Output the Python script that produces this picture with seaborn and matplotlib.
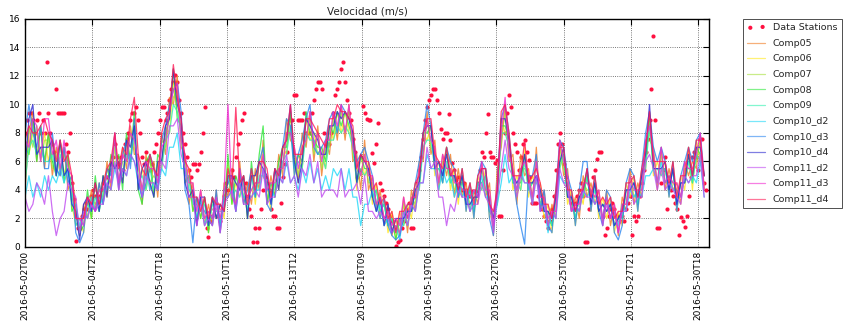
import numpy as np
import pandas as pd
import matplotlib
matplotlib.use("Agg")
import matplotlib.pyplot as plt
import matplotlib.dates as mdates
import seaborn as sns

# Time base: model output every 4 h, station observations every 2 h
start = pd.Timestamp("2016-05-02 00:00")
model_step_h = 4
station_step_h = 2

# Wind speed (m/s), one row per day (May 2 ... May 31)
comp05 = [4, 8, 9.5, 6, 8.5, 5.5,
          8, 5, 7, 5, 7, 4,
          5, 3, 0.8, 3, 2, 4,
          2.5, 4.5, 3, 6, 4, 8,
          4, 7, 5.5, 8.5, 6.5, 6.5,
          3, 6.5, 4, 6, 3.5, 8,
          6.5, 10.5, 10, 12, 7, 6.5,
          3, 4.5, 1.5, 4, 1.5, 3,
          1.5, 4, 1, 4.5, 3.5, 5.5,
          2.5, 6, 3, 4.5, 3, 5.5,
          4, 7.5, 3, 5, 3.5, 6.5,
          5, 9, 7.5, 7, 4.5, 8,
          7, 9.5, 6, 8.5, 5, 7.5,
          6.5, 9.5, 7.5, 10, 7.5, 10,
          6, 6.5, 4, 7.5, 4, 5,
          2.5, 4, 1.5, 3, 0.8, 2,
          0.8, 3.5, 1, 4, 2.5, 6,
          6, 9.5, 6.5, 7.5, 4, 6.5,
          5, 6.5, 3.5, 5.5, 3.5, 4.5,
          2.5, 4, 3, 6, 3.5, 4.5,
          0.8, 5.5, 7, 10, 6, 6.5,
          3, 6.5, 5, 5.5, 3, 7,
          2.5, 4, 1.5, 3, 2, 7.5,
          5, 5.5, 2.5, 3.5, 2, 5,
          3.5, 4.5, 3, 4, 1.5, 4,
          1.5, 3, 0.8, 3.5, 2.5, 5.5,
          3, 4.5, 3.5, 7.5, 7.5, 7,
          4, 7, 4, 5.5, 4, 4.5,
          3, 6, 5, 6, 5.5, 8,
          4]

comp06 = [6.5, 6.5, 8, 8, 6.5, 8,
          6, 7.5, 5, 7.5, 5, 6.5,
          3, 1.5, 2, 1, 3.5, 2,
          4.5, 2.5, 5, 3.5, 6, 6,
          6, 4.5, 7.5, 6, 9, 4,
          5.5, 4, 6.5, 3.5, 6, 5.5,
          8.5, 8, 11.5, 9.5, 8.5, 4.5,
          5.5, 2.5, 3.5, 2, 3.5, 1,
          3.5, 2, 3, 2, 6, 3,
          4.5, 3.5, 5, 2, 5.5, 3,
          6, 5, 4.5, 2.5, 5.5, 4,
          7, 6.5, 9.5, 5, 6.5, 5.5,
          9, 7.5, 8, 6.5, 7, 5.5,
          8.5, 7.5, 9.5, 8, 9.5, 8,
          8, 4, 6.5, 5, 6, 3,
          4.5, 2, 3.5, 1, 2.5, 0.5,
          2.5, 1.5, 3, 2, 4.5, 4,
          8, 7.5, 8.5, 5, 6, 4.5,
          7, 4, 5.5, 3, 5.5, 2.5,
          4.5, 2, 5, 4, 5.5, 2,
          2.5, 3, 9, 8, 8, 4,
          5, 4, 7, 3.5, 5, 4.5,
          4.5, 2, 3, 1, 4, 5.5,
          7, 3, 4, 1.5, 4, 3,
          5.5, 2.5, 5, 2, 3.5, 2,
          3.5, 1, 2.5, 1.5, 4.5, 3.5,
          5, 2.5, 5.5, 5.5, 9.5, 5,
          6, 5, 6, 3.5, 6, 2.5,
          5, 4, 7, 4, 7.5, 6,
          5]

comp07 = [5, 8.5, 7, 8.5, 6, 7.5,
          7.5, 5.5, 6.5, 5.5, 6.5, 6,
          3.5, 2.5, 0.8, 2.5, 2, 3.5,
          3, 4, 3.5, 5.5, 4.5, 7,
          4.5, 6, 6, 8, 7, 5.5,
          4, 5.5, 4.5, 5, 4.5, 7.5,
          7, 9.5, 10.5, 11, 7.5, 6,
          4, 3.5, 2, 3.5, 2, 2.5,
          2, 3.5, 1.5, 3.5, 4.5, 4.5,
          3, 5, 3.5, 3.5, 4, 4.5,
          4.5, 6.5, 3.5, 4, 4, 5.5,
          5.5, 8, 8, 6.5, 5, 7,
          7.5, 9, 6.5, 8, 5.5, 7,
          7, 9, 8, 9.5, 8, 9.5,
          6.5, 5.5, 5, 6.5, 4.5, 4.5,
          3, 3.5, 2, 2.5, 1, 1.5,
          1, 3, 1.5, 3.5, 3, 5.5,
          6.5, 9, 7, 6.5, 4.5, 6,
          5.5, 5.5, 4, 4.5, 4, 4,
          3, 3.5, 3.5, 5.5, 4, 3.5,
          1, 4.5, 7.5, 9.5, 6.5, 5.5,
          3.5, 5.5, 5.5, 5, 3.5, 6,
          3, 3.5, 1.5, 2.5, 2.5, 7,
          5.5, 4.5, 2.5, 3, 2.5, 4.5,
          4, 4, 3.5, 3.5, 2, 3.5,
          2, 2.5, 1, 3, 3, 5,
          3.5, 4, 4, 7, 8, 6.5,
          4.5, 6.5, 4.5, 5, 4.5, 4,
          3.5, 5.5, 5.5, 5.5, 6, 7.5,
          4]

comp08 = [7, 6.5, 9, 6, 8.5, 6,
          8, 6, 5, 7.5, 4.5, 6.5,
          2.5, 3, 1, 1.5, 4, 2,
          5, 2.5, 5, 4, 6.5, 5.5,
          6.5, 4, 8, 6, 9.5, 4,
          3, 6, 6.5, 3.5, 6.5, 6,
          8, 9, 12.5, 9, 8.5, 4.5,
          5, 2.5, 3.5, 2, 3.5, 1,
          3.5, 2, 3, 2.5, 6.5, 3,
          5, 4, 5, 2, 6, 3.5,
          6.5, 8.5, 3, 4.5, 3.5, 6,
          7, 7, 9.5, 5.5, 6.5, 6,
          9.5, 8, 7.5, 7, 7, 6,
          8.5, 8, 9.5, 8.5, 9.5, 8.5,
          7.5, 4.5, 6.5, 5.5, 5.5, 3.5,
          4, 2.5, 3, 1.5, 2, 0.5,
          2, 2, 2.5, 2.5, 4, 4.5,
          8, 8, 8.5, 5.5, 5.5, 5,
          7, 4.5, 5, 3.5, 5, 3,
          4, 2.5, 4.5, 4.5, 5, 2.5,
          2, 3.5, 8.5, 8.5, 7.5, 4.5,
          4.5, 4.5, 6.5, 4, 4.5, 5,
          4, 2.5, 2.5, 1.5, 3.5, 6,
          6.5, 3.5, 3.5, 2, 3.5, 3.5,
          5, 3, 4.5, 2.5, 3, 2.5,
          3, 1.5, 2, 2, 4, 4,
          4.5, 3, 5, 6, 9, 5.5,
          5.5, 5.5, 5.5, 4, 5.5, 3,
          4.5, 4.5, 6.5, 4.5, 7, 6.5,
          5]

comp09 = [4.5, 7, 7.5, 6.5, 7, 6,
          6, 6.5, 5, 6.5, 5, 5.5,
          4, 1.5, 2, 1.5, 3, 2.5,
          3.5, 2.5, 4, 4, 5.5, 5.5,
          5.5, 5, 6.5, 6, 8, 4.5,
          5, 4, 5.5, 4, 5, 5.5,
          7.5, 8, 10, 9.5, 8, 5,
          5, 3, 3, 2.5, 3, 1.5,
          3, 2.5, 2.5, 2.5, 5, 3.5,
          4, 3.5, 4.5, 2.5, 5, 3.5,
          5, 5, 4.5, 3, 4.5, 4.5,
          6, 6.5, 8.5, 5.5, 6, 5.5,
          8, 7.5, 7.5, 6.5, 6.5, 5.5,
          7.5, 7.5, 8.5, 8, 8.5, 8,
          7, 4.5, 5.5, 5, 5.5, 3.5,
          4, 2.5, 3, 1.5, 2, 1,
          2, 1.5, 2.5, 2.5, 4, 4,
          7, 7.5, 7.5, 5.5, 5.5, 4.5,
          6, 4.5, 5, 3.5, 4.5, 3,
          4, 2.5, 4.5, 4, 5, 2.5,
          2.5, 3, 8, 8, 7, 4.5,
          4.5, 4, 6, 4, 4.5, 4.5,
          4, 2.5, 2.5, 1.5, 3.5, 5.5,
          6.5, 3.5, 3.5, 2, 3.5, 3.5,
          5, 3, 4, 2.5, 3, 2.5,
          3, 1.5, 2, 2, 4, 4,
          4.5, 3, 5, 5.5, 8.5, 5.5,
          5.5, 5, 5.5, 4, 5.5, 3,
          4.5, 4.5, 6, 4.5, 6.5, 6,
          5]

comp10_d2 = [3.5, 5, 3.5, 4.5, 3.5, 5,
             4, 5, 4.5, 5.5, 4.5, 5.5,
             3, 3, 1.5, 2.5, 2, 3.5,
             2.5, 3.5, 3, 4.5, 4, 5.5,
             4.5, 5.5, 5, 6.5, 6, 4.5,
             3.5, 5.5, 4, 4.5, 4, 5.5,
             5, 7, 7, 8, 5.5, 5.5,
             4, 4, 2, 3.5, 1.5, 2.5,
             2, 3.5, 1.5, 3.5, 3.5, 4,
             2.5, 4.5, 3.5, 3.5, 3.5, 4,
             4, 5.5, 4, 4, 3.5, 5,
             4.5, 6, 4.5, 5, 4, 5.5,
             4.5, 6, 4.5, 5.5, 4, 5,
             4, 5.5, 5, 5.5, 4, 5.5,
             3.5, 3.5, 1.5, 3, 3, 4,
             2.5, 3, 1.5, 2, 1, 1.5,
             0.5, 2.5, 1.5, 3, 2.5, 4.5,
             4.5, 6.5, 5.5, 5.5, 4, 5.5,
             4.5, 5, 3.5, 4.5, 3.5, 4,
             2.5, 4, 3.5, 5, 3.5, 3.5,
             1.5, 3, 4.5, 6.5, 4.5, 5,
             4, 5.5, 4.5, 4.5, 3, 5,
             3, 3, 1, 2.5, 2, 5,
             4.5, 4.5, 2.5, 3, 2.5, 4,
             3.5, 4, 3, 3.5, 2, 3.5,
             2, 2.5, 1.5, 3, 2.5, 4,
             3.5, 4, 3.5, 5, 5, 5.5,
             4.5, 6, 4.5, 5, 4, 4,
             3.5, 5, 4.5, 5, 4.5, 6,
             3.5]

comp10_d3 = [8, 10, 8, 7, 8.5, 5.5,
             5.5, 8, 5.5, 5, 7, 4.5,
             5, 1, 0.3, 1, 3.5, 3,
             2.5, 4.5, 3, 5.5, 5, 8,
             4, 6.5, 7.5, 5.5, 9, 4.5,
             3.5, 4.5, 6.5, 5.5, 4, 7.5,
             8.5, 10, 11, 11.5, 9.5, 4,
             3, 0.3, 3.5, 3, 2.5, 2,
             1.5, 4, 1, 4, 4.5, 5,
             2.5, 5.5, 3, 4, 5.5, 3.5,
             6, 7, 3, 2.5, 5.5, 5,
             7, 9, 8.5, 5, 6.5, 7.5,
             9, 10, 7, 6.5, 7, 7.5,
             9, 9.5, 8, 10, 9.5, 9,
             8, 6, 6.5, 7, 6, 5,
             3, 2, 3.5, 1.5, 0.8, 0.5,
             0.8, 2, 3, 3, 4.5, 6,
             8, 10, 8.5, 6, 6, 4.5,
             7, 6, 5.5, 3.5, 5.5, 2.5,
             4.5, 2, 5, 6, 5.5, 2,
             0.8, 4.5, 9, 10, 8, 5,
             3, 1.5, 0.2, 5, 5, 6.5,
             2.5, 4, 1.5, 1, 4, 7.5,
             7, 5, 4, 1.5, 4, 6,
             6, 2.5, 5, 2.5, 1.5, 4,
             3.5, 1, 0.5, 1.5, 4.5, 5.5,
             5, 2.5, 5.5, 8, 9.5, 7,
             6, 7, 6, 3.5, 6, 2.5,
             5, 6, 7, 6, 7.5, 8,
             5]

comp10_d4 = [5.5, 9, 10, 6.5, 7, 7,
             7, 7.5, 5, 7.5, 5, 5.5,
             3, 2.5, 0.5, 3, 3.5, 2.5,
             4.5, 2.5, 5, 3.5, 6, 5.5,
             6, 4.5, 7.5, 7, 8.5, 4,
             5.5, 6, 4.5, 3.5, 6, 6,
             8.5, 9, 12.5, 10, 9, 4.5,
             3.5, 4, 1.5, 3.5, 3.5, 1.5,
             3.5, 2, 3, 2.5, 5, 5,
             4.5, 4, 5, 2, 5, 5,
             6, 5.5, 5, 3, 5.5, 4,
             7, 7.5, 10, 6, 4.5, 6,
             9, 8.5, 8, 7.5, 6.5, 6.5,
             8.5, 8.5, 9.5, 9, 9.5, 9,
             8, 4.5, 6.5, 6, 5.5, 3.5,
             2.5, 3.5, 1.5, 3, 1, 2,
             2, 2, 2.5, 2.5, 4, 4.5,
             8, 8.5, 8.5, 5.5, 6, 5,
             6.5, 5, 5, 4, 5, 3,
             3, 3.5, 3.5, 5.5, 5.5, 3,
             2, 4, 9, 9, 7.5, 5,
             4.5, 5, 6.5, 4.5, 4.5, 5,
             4, 2.5, 2.5, 2, 3.5, 6,
             7, 3.5, 3.5, 2.5, 3.5, 4,
             5.5, 3, 4.5, 2.5, 3, 2.5,
             3, 1.5, 2, 2.5, 4, 4,
             4.5, 3.5, 5, 6.5, 10, 5.5,
             5.5, 5.5, 6, 4, 5.5, 3,
             4.5, 4.5, 6.5, 5, 7, 7,
             5]

comp11_d2 = [3.5, 2.5, 3, 4.5, 4, 3,
             5, 2.5, 0.8, 2, 2.5, 4.5,
             4, 3.5, 1, 2.5, 2, 3,
             2.5, 3, 3, 4.5, 4, 6,
             4, 5.5, 5, 6.5, 6, 5,
             3.5, 5, 4.5, 4.5, 4, 6,
             5.5, 8.5, 8.5, 9, 6.5, 5.5,
             3.5, 3.5, 1.5, 3, 1.5, 2,
             1.5, 3, 1, 3, 3.5, 4,
             2.5, 4.5, 3, 3, 3.5, 4,
             3.5, 5.5, 3, 3.5, 3.5, 5,
             4.5, 6.5, 4.5, 5, 3.5, 5.5,
             5, 6.5, 4.5, 6, 3.5, 4,
             4, 4, 3.5, 5.5, 3.5, 4,
             4, 4.5, 3, 5, 2.5, 2.5,
             2, 2.5, 2, 2, 1, 1.5,
             1, 2.5, 1.5, 3, 2.5, 4.5,
             4.5, 7, 5.5, 6, 3.5, 3.5,
             1.5, 3, 2.5, 4, 3.5, 3.5,
             2.5, 3, 3, 4.5, 3.5, 3,
             1, 3.5, 5.5, 7.5, 5.5, 5,
             3.5, 5, 4.5, 4.5, 3, 5,
             2.5, 3, 1.5, 2.5, 2, 5.5,
             4.5, 4, 2.5, 3, 2.5, 4,
             3.5, 3.5, 3, 3.5, 1.5, 3,
             2, 2.5, 1, 2.5, 2.5, 4.5,
             3, 3.5, 3.5, 6, 6.5, 5.5,
             4, 5.5, 4, 4.5, 4, 3.5,
             3, 5, 4.5, 5, 5, 6.5,
             3.5]

comp11_d3 = [7.5, 7, 9, 8.5, 6, 9,
             9, 6.5, 7.5, 5.5, 7.5, 5.5,
             5, 2, 2, 1.5, 3.5, 3,
             2.5, 4, 4, 5, 4.5, 8,
             4.5, 6.5, 6, 8, 7.5, 6,
             4, 6, 5.5, 5.5, 4.5, 7,
             7.5, 9.5, 11, 11.5, 7.5, 6.5,
             4.5, 4.5, 2.5, 4, 2, 2.5,
             2, 3.5, 2, 4, 10, 3.5,
             3, 5.5, 4, 3.5, 4, 4.5,
             4.5, 6.5, 4, 4.5, 4.5, 5.5,
             5.5, 8, 8, 7, 5.5, 7,
             7.5, 9.5, 7, 8, 6, 7.5,
             7.5, 9.5, 8.5, 10, 8, 10,
             7, 6, 5, 6.5, 5, 5,
             3, 3.5, 2, 2.5, 1.5, 2,
             1.5, 3.5, 2, 3.5, 3.5, 5.5,
             6.5, 9, 7.5, 7, 4.5, 6.5,
             5.5, 5.5, 4.5, 4.5, 4, 4,
             3.5, 4, 3.5, 6, 4, 4,
             1.5, 4.5, 8, 10.5, 6.5, 5.5,
             4, 5.5, 6, 5, 3.5, 6,
             3.5, 3.5, 2, 2.5, 2.5, 7.5,
             6, 5, 2.5, 3, 3, 4.5,
             4.5, 4, 3.5, 4, 2, 3.5,
             2, 3, 1, 3, 3, 5,
             4, 4, 4, 7.5, 8.5, 6.5,
             4.5, 7, 4.5, 5, 4.5, 4.5,
             3.5, 6, 5.5, 5.5, 6.5, 8,
             4]

comp11_d4 = [7.5, 8.5, 8, 8, 8.5, 9,
             8, 7.5, 6, 7.5, 6, 6.5,
             5, 2, 2, 2, 3.5, 3,
             4.5, 3, 4.5, 5.5, 6, 8,
             5.5, 7, 6.5, 9, 10.5, 6.5,
             5.5, 5, 6.5, 5.5, 5, 8,
             9, 9.5, 12.8, 10.5, 9, 6,
             5.5, 3.5, 3.5, 2.5, 3.5, 2,
             3.5, 3, 3, 2.5, 5.5, 4,
             9.8, 4.5, 5, 3, 5.5, 4,
             6, 6, 5.5, 3.5, 5.5, 5,
             7, 7.5, 10, 6.5, 6.5, 6.5,
             9, 9, 8.5, 8, 7.5, 7,
             9, 9, 10, 9.5, 9.5, 9,
             8.5, 5.5, 6.5, 6, 6, 4,
             4.5, 3, 3.5, 2, 2.5, 1,
             2.5, 2.5, 3, 3, 4.5, 5,
             8, 9, 9, 6.5, 6, 5.5,
             7, 5, 5.5, 4, 5.5, 3.5,
             4.5, 3, 5, 5.5, 5.5, 3,
             2.5, 4, 9.5, 10, 8, 5,
             5, 5, 7.5, 4.5, 5, 5.5,
             4.5, 3, 3, 2, 4, 7,
             7, 4, 4, 2.5, 4, 4,
             5.5, 3.5, 5, 3, 3.5, 3,
             3.5, 2, 2.5, 2.5, 4.5, 4.5,
             5, 3.5, 5.5, 7, 9.5, 6,
             6, 6, 6, 4.5, 6, 3.5,
             5, 5, 7, 5, 7.5, 7.5,
             5]

# Observed wind speed at the stations (m/s), 12 readings per day
station = [8, 8.9, 9.4, 9.4, 8.9, 8, 8.9, 9.4, 8, 8.9, 8, 13,
           9.4, 8, 7.2, 6.7, 11.1, 9.4, 9.4, 9.4, 9.4, 7.2, 6.7, 8,
           4.5, 3.4, 0.4, 1.3, 1.3, 2.2, 2.7, 3.1, 2.7, 3.1, 3.6, 4.0,
           3.6, 3.1, 3.6, 4.0, 4.5, 4.0, 4.9, 5.4, 5.8, 6.3, 7.2, 6.3,
           5.8, 6.3, 5.4, 7.2, 7.6, 8.0, 8.9, 9.4, 9.4, 9.8, 8.9, 8.0,
           6.3, 5.8, 6.7, 6.1, 5.4, 5.8, 6.7, 7.2, 8.0, 8.9, 9.8, 9.8,
           8.9, 9.4, 10.3, 11.1, 11.6, 12.1, 11.6, 10.3, 9.4, 8.0, 7.2, 6.3,
           5.4, 4.9, 5.8, 5.8, 5.4, 5.8, 6.7, 8.0, 9.8, 1.3, 0.7, 1.8,
           2.2, 2.7, 3.1, 2.2, 1.8, 2.7, 3.6, 4.5, 4.0, 4.9, 5.4, 4.9,
           6.3, 7.2, 8.0, 8.9, 9.4, 4.5, 3.6, 2.7, 2.2, 0.35, 1.3, 0.35,
           1.3, 2.7, 4.0, 4.9, 4.5, 4.0, 2.7, 2.2, 2.2, 1.3, 1.3, 3.1,
           4.9, 5.8, 6.7, 8.0, 8.9, 8.9, 10.7, 10.7, 8.9, 8.9, 8.9, 9.4,
           8.0, 8.0, 8.0, 9.4, 10.3, 11.1, 11.6, 11.6, 11.1, 8.0, 7.2, 7.2,
           7.2, 8.0, 9.4, 10.7, 11.1, 11.6, 12.5, 13.0, 11.6, 10.3, 9.4, 8.9,
           7.6, 6.7, 4.9, 5.4, 6.3, 9.9, 9.4, 9.0, 8.9, 8.9, 6.6, 5.9,
           7.2, 8.7, 4.5, 4.0, 3.6, 3.1, 2.7, 2.2, 1.8, 1.3, 0.1, 0.35,
           0.5, 1.3, 1.8, 2.2, 2.7, 3.1, 1.3, 1.3, 3.6, 4.5, 5.4, 6.3,
           7.6, 8.9, 9.8, 10.3, 10.7, 11.1, 11.1, 10.3, 9.4, 8.3, 7.6, 8.0,
           8.0, 9.3, 7.5, 5.9, 5.4, 4.7, 4.9, 4.5, 4.0, 4.5, 4.0, 3.6,
           3.6, 3.9, 3.9, 3.9, 4.5, 5.4, 6.7, 6.3, 8.0, 9.3, 6.7, 6.3,
           6.3, 5.9, 6.1, 2.2, 2.2, 5.4, 8.0, 9.4, 10.7, 9.8, 8.0, 7.2,
           6.7, 5.4, 6.3, 7.2, 7.5, 6.7, 6.1, 4.9, 3.1, 3.1, 3.1, 3.6,
           3.1, 2.7, 2.2, 1.8, 1.3, 1.8, 2.7, 3.6, 5.4, 7.2, 8.0, 7.2,
           5.8, 4.9, 4.0, 3.6, 3.1, 2.7, 3.1, 3.6, 4.0, 4.5, 3.6, 0.35,
           0.35, 2.7, 3.6, 4.9, 5.4, 6.2, 6.7, 6.7, 2.2, 0.85, 1.3, 2.2,
           2.7, 3.1, 2.7, 2.2, 2.2, 1.8, 2.2, 1.8, 2.7, 3.1, 3.6, 0.85,
           2.2, 1.8, 2.2, 3.6, 4.5, 5.4, 6.7, 7.6, 8.9, 11.1, 14.8, 8.9,
           1.3, 1.3, 4.5, 5.4, 6.3, 2.7, 4.5, 4.0, 3.6, 3.1, 2.7, 0.85,
           2.1, 1.8, 1.4, 2.2, 3.6, 4.9, 6.3, 6.7, 6.3, 5.4, 7.6, 7.6,
           4.5, 4.0]

series_names = ["Comp05", "Comp06", "Comp07", "Comp08", "Comp09",
                "Comp10_d2", "Comp10_d3", "Comp10_d4",
                "Comp11_d2", "Comp11_d3", "Comp11_d4"]
series_values = [comp05, comp06, comp07, comp08, comp09,
                 comp10_d2, comp10_d3, comp10_d4,
                 comp11_d2, comp11_d3, comp11_d4]

station_color = "#ff1040"
series_colors = ["#f07a20", "#ffe81a", "#a6e03a", "#2ee83a", "#30f0b0",
                 "#20d8f8", "#2a86f0", "#2a28d0", "#c04af0", "#f028d0",
                 "#ff1a55"]

sns.set_style("white")
plt.rcParams.update({
    "font.family": ["DejaVu Sans"],
    "axes.edgecolor": "black",
    "axes.linewidth": 1.0,
})

fig = plt.figure(figsize=(8.43, 3.23), dpi=100)
ax = fig.add_axes([0.0297, 0.2353, 0.8114, 0.7059])

t_station = start + pd.to_timedelta(np.arange(len(station)) * station_step_h, unit="h")
sns.scatterplot(x=t_station, y=station, ax=ax, color=station_color, s=9,
                linewidth=0, label="Data Stations", zorder=1)

for name, vals, col in zip(series_names, series_values, series_colors):
    t_model = start + pd.to_timedelta(np.arange(len(vals)) * model_step_h, unit="h")
    sns.lineplot(x=t_model, y=vals, ax=ax, color=col, linewidth=0.9,
                 alpha=0.8, label=name, zorder=2)

# Axes limits, ticks every 69 hours
ax.set_xlim(start, start + pd.Timedelta(hours=701))
ax.set_ylim(0, 16)
ax.set_yticks(np.arange(0, 17, 2))
ax.set_xticks([start + pd.Timedelta(hours=69 * k) for k in range(11)])
ax.xaxis.set_major_formatter(mdates.DateFormatter("%Y-%m-%dT%H"))
for lbl in ax.get_xticklabels():
    lbl.set_rotation(90)

ax.grid(True, linestyle=":", color="black", linewidth=0.6, alpha=0.7)
ax.tick_params(direction="in", top=True, right=True, length=4, width=0.8,
               labelsize=6.5, colors="black")
ax.tick_params(axis="x", pad=3)
ax.set_xlabel("")
ax.set_ylabel("")
ax.set_title("Velocidad (m/s)", fontsize=7.5, pad=3)

leg = ax.legend(loc="upper left", bbox_to_anchor=(1.05, 1.0), borderaxespad=0,
                fontsize=6.8, frameon=True, fancybox=False, scatterpoints=2,
                handlelength=1.9, handletextpad=0.8, labelspacing=0.7,
                borderpad=0.45)
leg.get_frame().set_edgecolor("black")
leg.get_frame().set_linewidth(0.6)
for h in leg.get_lines():
    h.set_alpha(0.6)

fig.savefig("out.png", dpi=100)
